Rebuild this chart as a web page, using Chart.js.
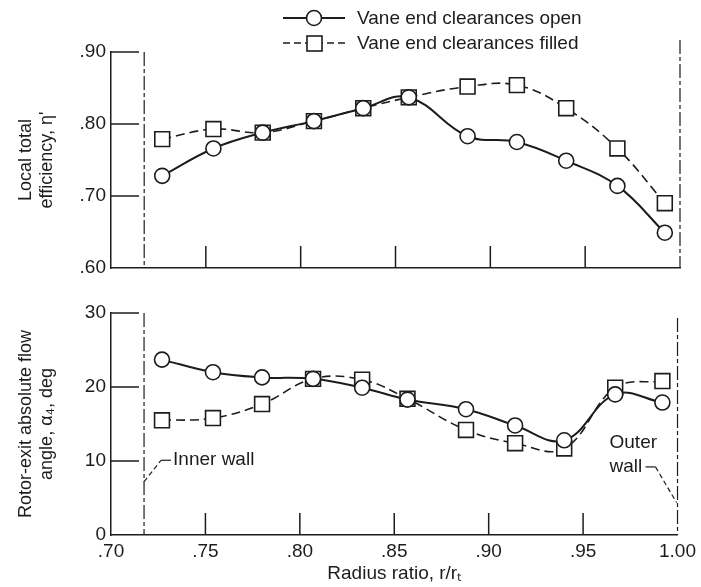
<!DOCTYPE html>
<html>
<head>
<meta charset="utf-8">
<script src="https://cdn.jsdelivr.net/npm/chart.js@4.4.1/dist/chart.umd.min.js"></script>
<style>
  html, body { margin: 0; padding: 0; background: #fff; }
  #wrap { position: relative; width: 701px; height: 587px; }
  canvas { position: absolute; left: 0; }
  #effChart { top: 0; }
  #angleChart { top: 290px; }
</style>
</head>
<body>
<div id="wrap">
  <canvas id="effChart" width="701" height="290"></canvas>
  <canvas id="angleChart" width="701" height="297"></canvas>
</div>
<script>
// survey stations, radius ratio r/rt
const radiusRatio = [0.727, 0.754, 0.780, 0.807, 0.833, 0.857, 0.888, 0.914, 0.940, 0.967, 0.992];

// local total efficiency
const effOpen   = [0.728, 0.766, 0.788, 0.804, 0.822, 0.837, 0.783, 0.775, 0.749, 0.714, 0.649];
const effFilled = [0.779, 0.793, 0.788, 0.804, 0.822, 0.837, 0.852, 0.854, 0.822, 0.766, 0.690];

// rotor-exit absolute flow angle, deg
const angleOpen   = [23.7, 22.0, 21.3, 21.1, 19.9, 18.3, 17.0, 14.8, 12.8, 19.0, 17.9];
const angleFilled = [15.5, 15.8, 17.7, 21.1, 21.0, 18.4, 14.2, 12.4, 11.7, 19.9, 20.8];

const effTicks = [0.60, 0.70, 0.80, 0.90];
const angleTicks = [0, 10, 20, 30];
const xTicks = [0.70, 0.75, 0.80, 0.85, 0.90, 0.95, 1.00];
const innerWall = 0.7175;
const outerWall = 1.00;

const ink = '#1c1c1c';
const FONT = "'Liberation Sans', Arial, sans-serif";
const TXT = 19;
Chart.defaults.font.family = FONT;
Chart.defaults.color = ink;

function pts(ys) {
  return radiusRatio.map((x, i) => ({ x: x, y: ys[i] }));
}

function fmtDec(v) {
  return v >= 1 ? v.toFixed(2) : v.toFixed(2).replace(/^0/, '');
}

function openSeries(ys) {
  return {
    label: 'Vane end clearances open',
    data: pts(ys),
    showLine: true,
    borderColor: ink,
    borderWidth: 2,
    tension: 0.4,
    pointStyle: 'circle',
    pointRadius: 7.5,
    pointBorderWidth: 1.6,
    pointBackgroundColor: '#fff',
    pointBorderColor: ink,
    order: 0
  };
}

function filledSeries(ys) {
  return {
    label: 'Vane end clearances filled',
    data: pts(ys),
    showLine: true,
    borderColor: ink,
    borderWidth: 1.6,
    borderDash: [9, 5],
    tension: 0.4,
    pointStyle: 'rect',
    pointRadius: 10.5,
    pointBorderWidth: 1.6,
    pointBackgroundColor: '#fff',
    pointBorderColor: ink,
    order: 1
  };
}

function segment(ctx, x1, y1, x2, y2) {
  ctx.beginPath();
  ctx.moveTo(x1, y1);
  ctx.lineTo(x2, y2);
  ctx.stroke();
}

// inward ticks plus the dash-dot wall lines at both ends of the span
function framePlugin(outerTopExtra) {
  return {
    id: 'frame',
    beforeDatasetsDraw(chart) {
      const { ctx, chartArea: a, scales: { x, y } } = chart;
      ctx.save();
      ctx.strokeStyle = ink;
      ctx.lineWidth = 1.5;
      y.ticks.forEach(t => {
        if (t.value === y.min) return;
        const py = y.getPixelForValue(t.value);
        segment(ctx, a.left, py, a.left + 28, py);
      });
      x.ticks.forEach(t => {
        if (t.value <= x.min || t.value >= x.max) return;
        const px = x.getPixelForValue(t.value);
        segment(ctx, px, a.bottom, px, a.bottom - 22);
      });
      ctx.lineWidth = 1.2;
      ctx.setLineDash([14, 3, 4, 3]);
      const xi = x.getPixelForValue(innerWall);
      const xo = x.getPixelForValue(outerWall);
      segment(ctx, xi, a.top, xi, a.bottom);
      segment(ctx, xo, a.top - outerTopExtra, xo, a.bottom);
      ctx.restore();
    }
  };
}

const legendPlugin = {
  id: 'keyLines',
  afterDraw(chart) {
    const ctx = chart.ctx;
    ctx.save();
    ctx.strokeStyle = ink;
    ctx.fillStyle = ink;
    ctx.font = TXT + 'px ' + FONT;
    ctx.textBaseline = 'middle';
    // solid line with circle
    ctx.lineWidth = 2;
    segment(ctx, 283, 18, 345, 18);
    ctx.beginPath();
    ctx.arc(314, 18, 7.5, 0, Math.PI * 2);
    ctx.fillStyle = '#fff';
    ctx.fill();
    ctx.lineWidth = 1.6;
    ctx.stroke();
    ctx.fillStyle = ink;
    ctx.fillText('Vane end clearances open', 357, 19);
    // dashed line with square
    ctx.setLineDash([7, 4]);
    segment(ctx, 283, 43, 345, 43);
    ctx.setLineDash([]);
    ctx.fillStyle = '#fff';
    ctx.fillRect(307, 36, 15, 15);
    ctx.strokeRect(307, 36, 15, 15);
    ctx.fillStyle = ink;
    ctx.fillText('Vane end clearances filled', 357, 44);
    ctx.restore();
  }
};

const wallLabels = {
  id: 'wallLabels',
  afterDraw(chart) {
    const { ctx, scales: { x, y } } = chart;
    ctx.save();
    ctx.strokeStyle = ink;
    ctx.fillStyle = ink;
    ctx.font = TXT + 'px ' + FONT;
    ctx.textBaseline = 'middle';
    ctx.lineWidth = 1.2;
    // inner wall leader
    const xi = x.getPixelForValue(innerWall);
    const yi = y.getPixelForValue(10.1);
    ctx.setLineDash([5, 3]);
    segment(ctx, xi, y.getPixelForValue(7.2), xi + 17, yi);
    ctx.setLineDash([]);
    segment(ctx, xi + 17, yi, xi + 27, yi);
    ctx.fillText('Inner wall', xi + 29, yi);
    // outer wall leader
    const xo = x.getPixelForValue(outerWall);
    const yw = y.getPixelForValue(9.2);
    ctx.fillText('Outer', xo - 68, y.getPixelForValue(12.4));
    ctx.fillText('wall', xo - 68, yw);
    segment(ctx, xo - 32, yw, xo - 22, yw);
    ctx.setLineDash([5, 3]);
    segment(ctx, xo - 22, yw, xo - 1, y.getPixelForValue(4.4));
    ctx.restore();
  }
};

function xScale(showLabels) {
  return {
    type: 'linear',
    min: 0.70,
    max: 1.00,
    afterBuildTicks: s => { s.ticks = xTicks.map(v => ({ value: v })); },
    afterFit: s => { s.height = showLabels ? 52 : 0; },
    grid: { display: false, drawTicks: false },
    border: { display: true, color: ink, width: 1.5 },
    ticks: {
      display: showLabels,
      padding: 5,
      font: { size: TXT },
      callback: v => fmtDec(v)
    },
    title: {
      display: showLabels,
      text: 'Radius ratio, r/r\u209C',
      font: { size: TXT, lineHeight: 1.2 },
      padding: { top: 0, bottom: 2 }
    }
  };
}

function yScale(min, max, tickVals, fmt, titleLines) {
  return {
    type: 'linear',
    min: min,
    max: max,
    afterBuildTicks: s => { s.ticks = tickVals.map(v => ({ value: v })); },
    afterFit: s => { s.width = 111; },
    grid: { display: false, drawTicks: false },
    border: { display: true, color: ink, width: 1.5 },
    ticks: {
      padding: 5,
      font: { size: TXT },
      callback: fmt
    },
    title: {
      display: true,
      text: titleLines,
      font: { size: 18, lineHeight: 1.2 },
      padding: { top: 15, bottom: 0 }
    }
  };
}

const baseOptions = {
  responsive: false,
  animation: false,
  plugins: { legend: { display: false }, tooltip: { enabled: false } }
};

new Chart(document.getElementById('effChart'), {
  type: 'scatter',
  data: { datasets: [openSeries(effOpen), filledSeries(effFilled)] },
  options: Object.assign({}, baseOptions, {
    layout: { padding: { top: 52, right: 21, bottom: 22, left: 0 } },
    scales: {
      x: xScale(false),
      y: yScale(0.60, 0.90, effTicks, v => fmtDec(v), ['Local total', 'efficiency, \u03B7\'']),
    }
  }),
  plugins: [framePlugin(12), legendPlugin]
});

new Chart(document.getElementById('angleChart'), {
  type: 'scatter',
  data: { datasets: [openSeries(angleOpen), filledSeries(angleFilled)] },
  options: Object.assign({}, baseOptions, {
    layout: { padding: { top: 23, right: 21, bottom: 0, left: 0 } },
    scales: {
      x: xScale(true),
      y: yScale(0, 30, angleTicks, v => String(v), ['Rotor-exit absolute flow', 'angle, \u03B1\u2084, deg']),
    }
  }),
  plugins: [framePlugin(-5), wallLabels]
});
</script>
</body>
</html>
